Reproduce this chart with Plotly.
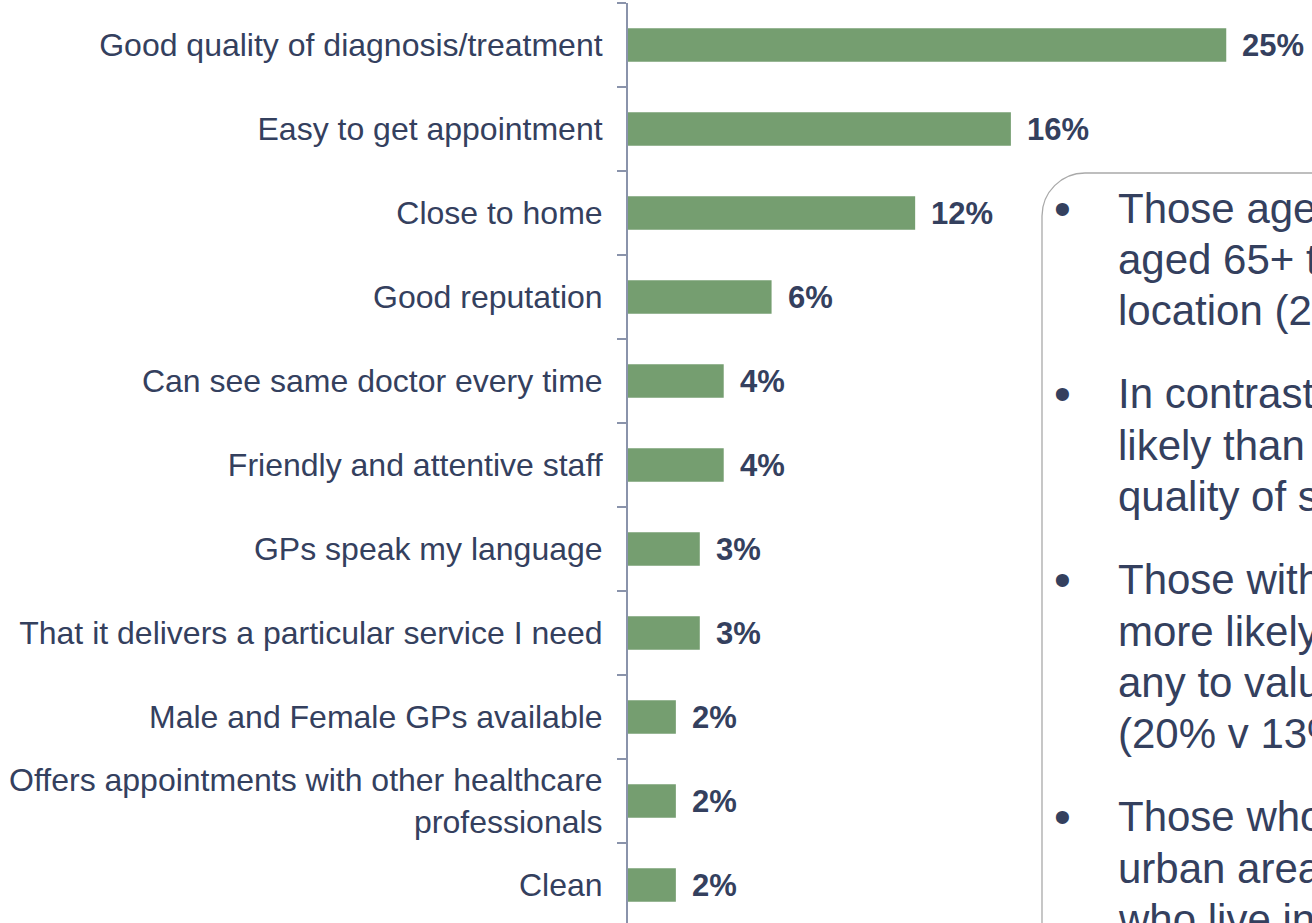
import plotly.graph_objects as go

# ---------------- data ----------------
categories = [
    "Good quality of diagnosis/treatment",
    "Easy to get appointment",
    "Close to home",
    "Good reputation",
    "Can see same doctor every time",
    "Friendly and attentive staff",
    "GPs speak my language",
    "That it delivers a particular service I need",
    "Male and Female GPs available",
    "Offers appointments with other healthcare<br>professionals",
    "Clean",
]
values = [25, 16, 12, 6, 4, 4, 3, 3, 2, 2, 2]
value_labels = [f"{v}%" for v in values]

note_paragraphs = [
    ["Those age", "aged 65+ t", "location (2"],
    ["In contrast", "likely than", "quality of s"],
    ["Those with", "more likely", "any to valu", "(20% v 13%"],
    ["Those who", "urban area", "who live in"],
]

# ---------------- layout constants ----------------
W, H = 1312, 923
L, R, T, B = 628, 0, 3, 0
PW, PH = W - L - R, H - T - B
PX_PER_UNIT = 23.93
CAT_PX = 84

NAVY = "#34405E"
GREEN = "#759E70"
AXIS = "#8A93AB"
FONT = "Liberation Sans, Arial, sans-serif"


def xp(px):
    return (px - L) / PW


def yp(py):
    return (H - B - py) / PH


fig = go.Figure(
    go.Bar(
        x=values,
        y=categories,
        orientation="h",
        width=0.4,
        marker=dict(color=GREEN, line=dict(width=0)),
        hoverinfo="skip",
    )
)

annotations = []
for c, v, lab in zip(categories, values, value_labels):
    annotations.append(
        dict(
            x=v, y=c, xref="x", yref="y", text=f"<b>{lab}</b>",
            showarrow=False, xanchor="left", yanchor="middle", xshift=14,
            font=dict(family=FONT, size=31, color=NAVY),
        )
    )

# text box notes
LINE_PX = 51.3
GAP_PX = 32
y_cur = 208
for para in note_paragraphs:
    annotations.append(
        dict(
            x=xp(1062), y=yp(y_cur), xref="paper", yref="paper", text="•",
            showarrow=False, xanchor="center", yanchor="middle",
            font=dict(family=FONT, size=48, color=NAVY),
        )
    )
    for line in para:
        annotations.append(
            dict(
                x=xp(1116), y=yp(y_cur), xref="paper", yref="paper", text=line,
                showarrow=False, xanchor="left", yanchor="middle",
                font=dict(family=FONT, size=42, color=NAVY),
            )
        )
        y_cur += LINE_PX
    y_cur += GAP_PX

# rounded box (only top-left corner visible)
bx, by, rad = 1042, 173, 43
k = 0.5523 * rad
path = (
    f"M {xp(bx)} {yp(960)} L {xp(bx)} {yp(by + rad)} "
    f"C {xp(bx)} {yp(by + rad - k)} {xp(bx + rad - k)} {yp(by)} {xp(bx + rad)} {yp(by)} "
    f"L {xp(1340)} {yp(by)}"
)
shapes = [
    dict(type="path", xref="paper", yref="paper", path=path,
         line=dict(color="#A9A9A9", width=1.3), fillcolor="rgba(0,0,0,0)")
]

fig.update_layout(
    width=W, height=H,
    margin=dict(l=L, r=R, t=T, b=B, pad=0),
    paper_bgcolor="white", plot_bgcolor="white",
    showlegend=False,
    bargap=0.6,
    annotations=annotations,
    shapes=shapes,
    xaxis=dict(range=[0, PW / PX_PER_UNIT], visible=False, fixedrange=True),
    yaxis=dict(
        type="category",
        range=[-0.5 + PH / CAT_PX, -0.5],
        showline=True, linecolor=AXIS, linewidth=2,
        ticks="outside", tickson="boundaries", ticklen=9, tickwidth=2, tickcolor=AXIS,
        ticklabelstandoff=17,
        tickfont=dict(family=FONT, size=32, color=NAVY),
        showgrid=False, zeroline=False, automargin=False, fixedrange=True,
    ),
    font=dict(family=FONT, color=NAVY),
)

fig.write_html(
    "out.html",
    config={"displayModeBar": False, "staticPlot": True},
    post_script="document.body.style.margin='0';document.body.style.overflow='hidden';",
)
